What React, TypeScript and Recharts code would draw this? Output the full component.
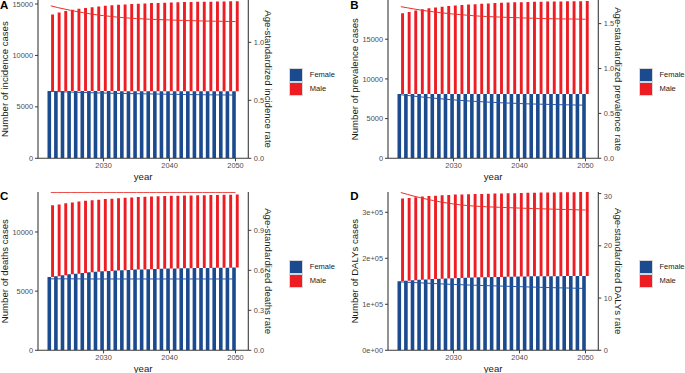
import React from 'react';
import { ComposedChart, Bar, Line, XAxis, YAxis, Legend, Label } from 'recharts';

const years = [2022, 2023, 2024, 2025, 2026, 2027, 2028, 2029, 2030, 2031, 2032, 2033, 2034, 2035, 2036, 2037, 2038, 2039, 2040, 2041, 2042, 2043, 2044, 2045, 2046, 2047, 2048, 2049, 2050];
const xTicks = [2030, 2040, 2050];
const legendNames = ['Female', 'Male'];

// Panel A: incidence
const femaleIncidence = [6550, 6550, 6550, 6545, 6545, 6540, 6540, 6540, 6535, 6535, 6535, 6530, 6530, 6530, 6525, 6525, 6525, 6520, 6520, 6520, 6520, 6515, 6515, 6515, 6515, 6510, 6510, 6510, 6510];
const maleIncidence = [13990, 14180, 14320, 14430, 14530, 14610, 14690, 14760, 14820, 14870, 14920, 14960, 15000, 15030, 15060, 15090, 15110, 15130, 15150, 15170, 15190, 15200, 15210, 15220, 15230, 15240, 15250, 15260, 15270];
const femaleIncidenceRate = [0.577, 0.575, 0.573, 0.571, 0.569, 0.567, 0.566, 0.564, 0.563, 0.561, 0.56, 0.559, 0.558, 0.557, 0.556, 0.555, 0.554, 0.553, 0.552, 0.551, 0.55, 0.549, 0.549, 0.548, 0.547, 0.547, 0.546, 0.546, 0.545];
const maleIncidenceRate = [1.315, 1.3, 1.288, 1.276, 1.265, 1.255, 1.245, 1.237, 1.23, 1.224, 1.218, 1.213, 1.209, 1.205, 1.202, 1.199, 1.197, 1.195, 1.193, 1.191, 1.189, 1.187, 1.186, 1.184, 1.183, 1.182, 1.181, 1.18, 1.179];

// Panel B: prevalence
const femalePrevalence = [8100, 8100, 8100, 8100, 8095, 8095, 8095, 8095, 8090, 8090, 8090, 8090, 8090, 8090, 8090, 8090, 8090, 8090, 8090, 8090, 8090, 8090, 8090, 8090, 8090, 8090, 8090, 8090, 8090];
const malePrevalence = [18270, 18430, 18620, 18760, 18890, 19000, 19100, 19180, 19250, 19310, 19370, 19420, 19470, 19510, 19550, 19590, 19620, 19650, 19670, 19690, 19710, 19730, 19740, 19750, 19760, 19770, 19780, 19790, 19800];
const femalePrevalenceRate = [0.708, 0.7, 0.692, 0.684, 0.677, 0.67, 0.663, 0.657, 0.651, 0.645, 0.64, 0.635, 0.631, 0.627, 0.623, 0.619, 0.616, 0.613, 0.61, 0.607, 0.605, 0.603, 0.601, 0.599, 0.597, 0.596, 0.594, 0.593, 0.592];
const malePrevalenceRate = [1.689, 1.676, 1.663, 1.651, 1.64, 1.631, 1.622, 1.614, 1.606, 1.6, 1.594, 1.588, 1.583, 1.579, 1.576, 1.573, 1.57, 1.567, 1.565, 1.562, 1.56, 1.557, 1.556, 1.554, 1.553, 1.552, 1.551, 1.55, 1.549];

// Panel C: deaths
const femaleDeaths = [6200, 6250, 6340, 6420, 6480, 6540, 6590, 6650, 6680, 6710, 6740, 6760, 6790, 6820, 6840, 6860, 6880, 6900, 6910, 6920, 6930, 6940, 6950, 6960, 6965, 6970, 6975, 6980, 6990];
const maleDeaths = [12260, 12330, 12420, 12500, 12580, 12640, 12690, 12730, 12780, 12820, 12850, 12890, 12920, 12950, 12980, 13000, 13020, 13040, 13060, 13070, 13080, 13090, 13100, 13110, 13120, 13130, 13140, 13150, 13160];
const femaleDeathsRate = [0.536, 0.536, 0.536, 0.536, 0.536, 0.535, 0.535, 0.535, 0.535, 0.535, 0.535, 0.535, 0.535, 0.535, 0.535, 0.535, 0.535, 0.535, 0.535, 0.535, 0.535, 0.535, 0.535, 0.535, 0.535, 0.535, 0.535, 0.535, 0.535];
const maleDeathsRate = [1.185, 1.185, 1.185, 1.185, 1.185, 1.185, 1.185, 1.185, 1.185, 1.185, 1.185, 1.185, 1.185, 1.185, 1.185, 1.185, 1.185, 1.185, 1.185, 1.185, 1.185, 1.185, 1.185, 1.185, 1.185, 1.185, 1.185, 1.185, 1.185];

// Panel D: DALYs
const femaleDALYs = [150000, 151000, 152200, 153200, 154100, 154900, 155600, 156200, 156800, 157300, 157800, 158200, 158600, 159000, 159300, 159600, 159900, 160100, 160300, 160500, 160700, 160900, 161000, 161100, 161200, 161300, 161400, 161500, 161600];
const maleDALYs = [329700, 331200, 332600, 334100, 335500, 336200, 337000, 337700, 338400, 338800, 339100, 339500, 339900, 340200, 340600, 340900, 341300, 341600, 342000, 342300, 342600, 342800, 343000, 343200, 343400, 343600, 343800, 343900, 344000];
const femaleDALYsRate = [13.08, 13.02, 12.96, 12.9, 12.84, 12.78, 12.72, 12.66, 12.61, 12.56, 12.51, 12.46, 12.42, 12.38, 12.34, 12.3, 12.26, 12.22, 12.18, 12.14, 12.1, 12.06, 12.02, 11.99, 11.96, 11.93, 11.9, 11.87, 11.84];
const maleDALYsRate = [30.2, 29.85, 29.5, 29.2, 28.9, 28.65, 28.4, 28.2, 28.0, 27.85, 27.72, 27.62, 27.54, 27.47, 27.42, 27.37, 27.32, 27.27, 27.22, 27.18, 27.14, 27.1, 27.06, 27.02, 26.98, 26.95, 26.92, 26.88, 26.85];

const FEMALE_COLOR = '#1B4A8E';
const MALE_COLOR = '#EE1D24';
const FEMALE_LINE = '#2557A3';
const MALE_LINE = '#E8302A';
const AXIS = '#3a3a3a';
const TICK_TEXT = '#4D4D4D';
const TITLE = '#1a1a1a';
const FONT = '"Liberation Sans", Arial, Helvetica, sans-serif';

const PANEL_W = 335;
const PANEL_H = 186;
const LEFT_AXIS_W = 38;
const PLOT_RIGHT = 248.3;
const PLOT_BOTTOM = 158.3;

type PanelProps = {
  letter: string;
  left: number;
  top: number;
  female: number[];
  male: number[];
  femaleRate: number[];
  maleRate: number[];
  leftTitle: string;
  rightTitle: string;
  leftTop: number;
  leftTicks: number[];
  leftFmt: (v: number) => string;
  rightTop: number;
  rightTicks: number[];
  rightFmt: (v: number) => string;
};

const renderLegend = (props: any) => {
  const items = (props.payload || []).filter((p: any) => legendNames.includes(p.value));
  return (
    <div style={{ fontFamily: FONT }}>
      {items.map((e: any) => (
        <div key={e.value} style={{ display: 'flex', alignItems: 'center', height: 13.9 }}>
          <span
            style={{
              display: 'inline-block',
              width: 14,
              height: 13.9,
              background: e.color,
              boxSizing: 'border-box',
              border: '0.6px solid #d8d8d8',
            }}
          />
          <span style={{ marginLeft: 6.5, fontSize: 7.5, color: TITLE, lineHeight: '10px' }}>{e.value}</span>
        </div>
      ))}
    </div>
  );
};

function Panel(p: PanelProps) {
  const data = years.map((y, i) => ({
    year: y,
    female: p.female[i],
    male: [p.female[i], p.male[i]],
    femaleRate: p.femaleRate[i],
    maleRate: p.maleRate[i],
  }));
  return (
    <div style={{ position: 'absolute', left: p.left, top: p.top }}>
      <ComposedChart
        width={PANEL_W}
        height={PANEL_H}
        data={data}
        margin={{ top: 0, right: 0, bottom: 0, left: 0 }}
        barGap={0}
      >
        <XAxis
          dataKey="year"
          type="category"
          height={PANEL_H - PLOT_BOTTOM}
          padding={{ left: 9.5, right: 9.5 }}
          ticks={xTicks}
          interval={0}
          tickSize={3}
          tickMargin={1.5}
          axisLine={{ stroke: AXIS, strokeWidth: 1.1 }}
          tickLine={{ stroke: AXIS }}
          tick={{ fill: TICK_TEXT, fontSize: 7.4 }}
        >
          <Label
            content={(lp: any) => {
              const vb = lp.viewBox || { x: LEFT_AXIS_W, y: PLOT_BOTTOM, width: PLOT_RIGHT - LEFT_AXIS_W };
              return (
                <text x={vb.x + vb.width / 2} y={vb.y + 22} textAnchor="middle" fontSize={9.6} fill={TITLE}>
                  year
                </text>
              );
            }}
          />
        </XAxis>
        <YAxis
          yAxisId="left"
          width={LEFT_AXIS_W}
          domain={[0, p.leftTop]}
          ticks={p.leftTicks}
          allowDataOverflow
          tickFormatter={p.leftFmt}
          tickSize={3}
          tickMargin={2}
          axisLine={{ stroke: AXIS, strokeWidth: 1.1 }}
          tickLine={{ stroke: AXIS }}
          tick={{ fill: TICK_TEXT, fontSize: 7.4 }}
        >
          <Label
            content={(lp: any) => {
              const vb = lp.viewBox || { x: 0, y: 0, height: PLOT_BOTTOM };
              const cx = vb.x + 5;
              const cy = vb.y + vb.height / 2;
              return (
                <text
                  x={cx}
                  y={cy}
                  transform={`rotate(-90 ${cx} ${cy})`}
                  textAnchor="middle"
                  dominantBaseline="central"
                  fontSize={9.6}
                  fill={TITLE}
                >
                  {p.leftTitle}
                </text>
              );
            }}
          />
        </YAxis>
        <YAxis
          yAxisId="right"
          orientation="right"
          width={PANEL_W - PLOT_RIGHT}
          domain={[0, p.rightTop]}
          ticks={p.rightTicks}
          allowDataOverflow
          tickFormatter={p.rightFmt}
          tickSize={3}
          tickMargin={2.5}
          axisLine={{ stroke: AXIS, strokeWidth: 1.1 }}
          tickLine={{ stroke: AXIS }}
          tick={{ fill: TICK_TEXT, fontSize: 7.4 }}
        >
          <Label
            content={(lp: any) => {
              const vb = lp.viewBox || { x: PLOT_RIGHT, y: 0, height: PLOT_BOTTOM };
              const cx = vb.x + 20;
              const cy = vb.y + vb.height / 2;
              return (
                <text
                  x={cx}
                  y={cy}
                  transform={`rotate(90 ${cx} ${cy})`}
                  textAnchor="middle"
                  dominantBaseline="central"
                  fontSize={9.6}
                  fill={TITLE}
                >
                  {p.rightTitle}
                </text>
              );
            }}
          />
        </YAxis>
        <Legend
          layout="vertical"
          align="center"
          verticalAlign="middle"
          wrapperStyle={{ left: 289.3, top: 68.3, width: 60 }}
          content={renderLegend}
        />
        <Bar yAxisId="left" dataKey="female" name="Female" fill={FEMALE_COLOR} barSize={3.6} isAnimationActive={false} />
        <Bar yAxisId="left" dataKey="male" name="Male" fill={MALE_COLOR} barSize={2.9} isAnimationActive={false} />
        <Line
          yAxisId="right"
          dataKey="femaleRate"
          name="Female rate"
          stroke={FEMALE_LINE}
          strokeWidth={1}
          dot={false}
          legendType="none"
          isAnimationActive={false}
        />
        <Line
          yAxisId="right"
          dataKey="maleRate"
          name="Male rate"
          stroke={MALE_LINE}
          strokeWidth={1}
          dot={false}
          legendType="none"
          isAnimationActive={false}
        />
      </ComposedChart>
    </div>
  );
}

const fmt1 = (v: number) => v.toFixed(1);
const fmtInt = (v: number) => String(v);
const fmtSci = (v: number) => (v === 0 ? '0e+00' : `${Math.round(v / 100000)}e+05`);

export default function App() {
  const LX = 349.7;
  const BY = 191.7;
  return (
    <div
      style={{
        position: 'absolute',
        left: 0,
        top: 0,
        width: 685,
        height: 373,
        overflow: 'hidden',
        background: '#ffffff',
        fontFamily: FONT,
      }}
    >
      <Panel
        letter="A"
        left={0}
        top={0}
        female={femaleIncidence}
        male={maleIncidence}
        femaleRate={femaleIncidenceRate}
        maleRate={maleIncidenceRate}
        leftTitle="Number of incidence cases"
        rightTitle="Age-standardized incidence rate"
        leftTop={15390}
        leftTicks={[0, 5000, 10000, 15000]}
        leftFmt={fmtInt}
        rightTop={1.365}
        rightTicks={[0, 0.5, 1.0]}
        rightFmt={fmt1}
      />
      <Panel
        letter="B"
        left={LX}
        top={0}
        female={femalePrevalence}
        male={malePrevalence}
        femaleRate={femalePrevalenceRate}
        maleRate={malePrevalenceRate}
        leftTitle="Number of prevalence cases"
        rightTitle="Age-standardized prevalence rate"
        leftTop={19940}
        leftTicks={[0, 5000, 10000, 15000]}
        leftFmt={fmtInt}
        rightTop={1.763}
        rightTicks={[0, 0.5, 1.0, 1.5]}
        rightFmt={fmt1}
      />
      <Panel
        letter="C"
        left={0}
        top={BY}
        female={femaleDeaths}
        male={maleDeaths}
        femaleRate={femaleDeathsRate}
        maleRate={maleDeathsRate}
        leftTitle="Number of deaths cases"
        rightTitle="Age-standardized deaths rate"
        leftTop={13381}
        leftTicks={[0, 5000, 10000]}
        leftFmt={fmtInt}
        rightTop={1.1875}
        rightTicks={[0, 0.3, 0.6, 0.9]}
        rightFmt={fmt1}
      />
      <Panel
        letter="D"
        left={LX}
        top={BY}
        female={femaleDALYs}
        male={maleDALYs}
        femaleRate={femaleDALYsRate}
        maleRate={maleDALYsRate}
        leftTitle="Number of DALYs cases"
        rightTitle="Age-standardized DALYs rate"
        leftTop={344100}
        leftTicks={[0, 100000, 200000, 300000]}
        leftFmt={fmtSci}
        rightTop={30.3}
        rightTicks={[0, 10, 20, 30]}
        rightFmt={fmtInt}
      />
      <svg
        width={685}
        height={373}
        style={{ position: 'absolute', left: 0, top: 0, pointerEvents: 'none' }}
      >
        {[
          { t: 'A', x: 0, y: 8.6 },
          { t: 'B', x: LX + 0.5, y: 8.6 },
          { t: 'C', x: 0, y: BY + 8.6 },
          { t: 'D', x: LX + 0.5, y: BY + 8.6 },
        ].map((l) => (
          <text key={l.t} x={l.x} y={l.y} fontSize={11.5} fontWeight="bold" fill="#000" fontFamily={FONT}>
            {l.t}
          </text>
        ))}
      </svg>
    </div>
  );
}
